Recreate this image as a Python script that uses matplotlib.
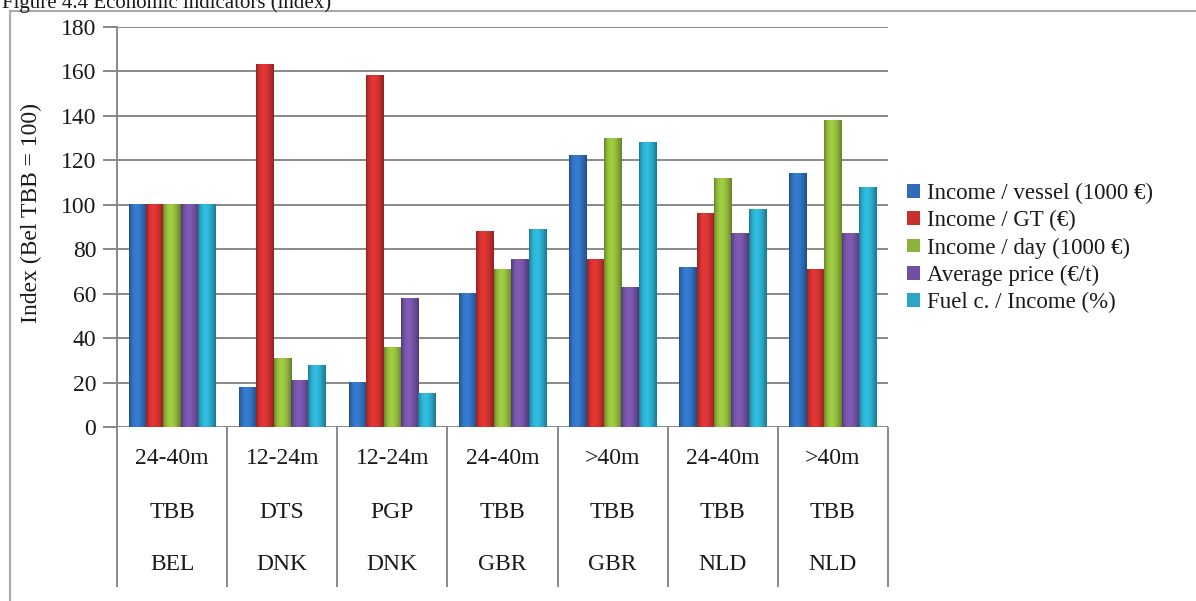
import numpy as np
import matplotlib
matplotlib.use("Agg")
import matplotlib.pyplot as plt
from matplotlib.colors import to_rgb

plt.rcParams['font.family'] = ['Liberation Serif', 'DejaVu Serif']

#%% data
lengths = ["24-40m", "12-24m", "12-24m", "24-40m", ">40m", "24-40m", ">40m"]
gears = ["TBB", "DTS", "PGP", "TBB", "TBB", "TBB", "TBB"]
countries = ["BEL", "DNK", "DNK", "GBR", "GBR", "NLD", "NLD"]

series = ["Income / vessel (1000 €)", "Income / GT (€)", "Income / day (1000 €)",
          "Average price (€/t)", "Fuel c. / Income (%)"]
income_vessel = [100, 18, 20, 60, 122, 72, 114]
income_gt = [100, 163, 158, 88, 75.5, 96, 71]
income_day = [100, 31, 36, 71, 130, 112, 138]
avg_price = [100, 21, 58, 75.5, 63, 87, 87]
fuel_income = [100, 27.5, 15, 89, 128, 98, 108]
values = [income_vessel, income_gt, income_day, avg_price, fuel_income]

colors = ["#2f6db8", "#c8302e", "#8db43a", "#7050a0", "#2aa6c6"]
yticks = np.arange(0, 181, 20)

W, H = 1196, 601
fig = plt.figure(figsize=(W/100, H/100), dpi=100)
ax = fig.add_axes([117/W, (H-427)/H, (888-117)/W, 400/H])

n = len(lengths)
x = np.arange(n)
bw = 0.79/5
grey = "#888888"
txt = "#1a1a1a"

def shaded(c):
    # cylinder-like shading across the bar
    base = np.array(to_rgb(c))
    t = np.linspace(0, 1, 40)
    f = 0.72 + 0.42*np.sin(np.pi*t**0.8)
    img = np.clip(base[None, :]*f[:, None], 0, 1)
    return img[None, :, :]

for i, (vals, c) in enumerate(zip(values, colors)):
    xs = x - 0.395 + bw*(i + 0.5)
    bars = ax.bar(xs, vals, width=bw, color=c, label=series[i], zorder=3)
    for b in bars:
        x0, h = b.get_x(), b.get_height()
        ax.imshow(shaded(c), extent=(x0, x0+bw, 0, h), aspect='auto',
                  zorder=3.5, interpolation='bilinear')

ax.set_xlim(-0.5, n-0.5)
ax.set_ylim(0, 180)
ax.set_yticks(yticks)
ax.set_xticks([])
ax.yaxis.grid(True, color=grey, lw=1.4)
ax.set_axisbelow(True)
for s in ["top", "right", "bottom"]:
    ax.spines[s].set_visible(False)
ax.spines["left"].set_color(grey)
ax.spines["left"].set_linewidth(1.4)
ax.tick_params(axis='y', direction='out', length=10, width=1.4, color=grey,
               labelsize=17, pad=5, labelcolor=txt)
ax.set_ylabel("Index (Bel TBB = 100)", fontsize=17, color=txt)
ax.yaxis.set_label_coords(-0.097, 0.535)

# category table under the axis
ax.vlines(np.arange(n+1) - 0.5, -0.4, 0, transform=ax.get_xaxis_transform(),
          color=grey, lw=1.4, clip_on=False)
for i in range(n):
    for yy, lab in zip([-0.08, -0.2125, -0.345], [lengths[i], gears[i], countries[i]]):
        ax.text(i, yy, lab, transform=ax.get_xaxis_transform(), ha='center',
                va='center', fontsize=17, color=txt)

leg = fig.legend(loc='center left', bbox_to_anchor=(896/W, (H-248)/H), frameon=False,
                 fontsize=16.5, handlelength=0.55, handleheight=0.55, handletextpad=0.3,
                 labelspacing=0.27, borderpad=0)
for t in leg.get_texts():
    t.set_color(txt)

# page frame and clipped caption
fig.add_artist(plt.Line2D([10/W, 1], [(H-11)/H]*2, color="#aaaaaa", lw=1.5))
fig.add_artist(plt.Line2D([10/W]*2, [0, (H-11)/H], color="#aaaaaa", lw=1.5))
fig.text(2/W, (H-8)/H, "Figure 4.4 Economic indicators (index)", fontsize=15,
         va='baseline', color=txt)

fig.savefig("out.png", dpi=100)
